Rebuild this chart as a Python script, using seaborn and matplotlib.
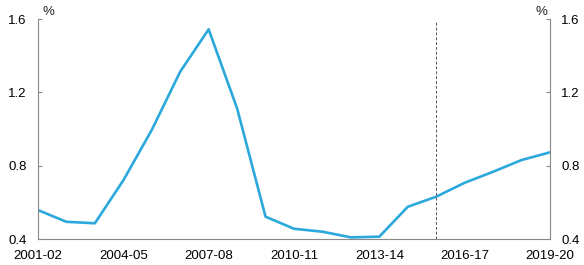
import matplotlib
matplotlib.use("Agg")
import matplotlib.pyplot as plt
import seaborn as sns
import pandas as pd

years = ["2001-02", "2002-03", "2003-04", "2004-05", "2005-06", "2006-07", "2007-08",
         "2008-09", "2009-10", "2010-11", "2011-12", "2012-13", "2013-14", "2014-15",
         "2015-16", "2016-17", "2017-18", "2018-19", "2019-20"]
values = [0.558, 0.494, 0.486, 0.72, 0.995, 1.313, 1.544, 1.113, 0.522, 0.456, 0.44,
          0.409, 0.413, 0.576, 0.631, 0.707, 0.767, 0.831, 0.873]
yticks = [0.4, 0.8, 1.2, 1.6]
tick_years = ["2001-02", "2004-05", "2007-08", "2010-11", "2013-14", "2016-17", "2019-20"]
divider_year = "2015-16"

sns.set_style("white")
plt.rcParams['font.family'] = ['Liberation Sans', 'DejaVu Sans']

df = pd.DataFrame({"idx": range(len(years)), "value": values})

fig = plt.figure(figsize=(5.84, 2.65), dpi=100)
ax = fig.add_axes([0.065, 0.098, 0.8768, 0.83])
sns.lineplot(data=df, x="idx", y="value", ax=ax, color="#2BA8DC", linewidth=1.9)

ax.axvline(years.index(divider_year), color="#555555", linestyle=(0, (3, 2)), linewidth=0.7,
           ymin=0, ymax=0.99)

ax.set_xlim(0, len(years) - 1)
ax.set_ylim(0.4, 1.6)
ax.set_xticks([years.index(y) for y in tick_years])
ax.set_xticklabels(tick_years)
ax.set_yticks(yticks)
ax.set_yticklabels([f"{v:.1f}" for v in yticks])
ax.set_xlabel("")
ax.set_ylabel("")

ax2 = ax.twinx()
ax2.set_ylim(0.4, 1.6)
ax2.set_yticks(yticks)
ax2.set_yticklabels([f"{v:.1f}" for v in yticks])

fs = 9.5
for a in (ax, ax2):
    for s in a.spines.values():
        s.set_visible(False)
    a.tick_params(axis="both", direction="in", length=3, width=0.8, color="#888888",
                  labelsize=fs, labelcolor="#000000", pad=8)
ax.spines["left"].set_visible(True)
ax.spines["bottom"].set_visible(True)
ax2.spines["right"].set_visible(True)
for s in (ax.spines["left"], ax.spines["bottom"], ax2.spines["right"]):
    s.set_color("#888888")
    s.set_linewidth(0.8)
ax.tick_params(axis="x", pad=8)

ax.text(0.15, 1.605, "%", ha="left", va="bottom", fontsize=fs)
ax.text(len(years) - 1 - 0.1, 1.605, "%", ha="right", va="bottom", fontsize=fs)

fig.savefig("out.png", dpi=100)
